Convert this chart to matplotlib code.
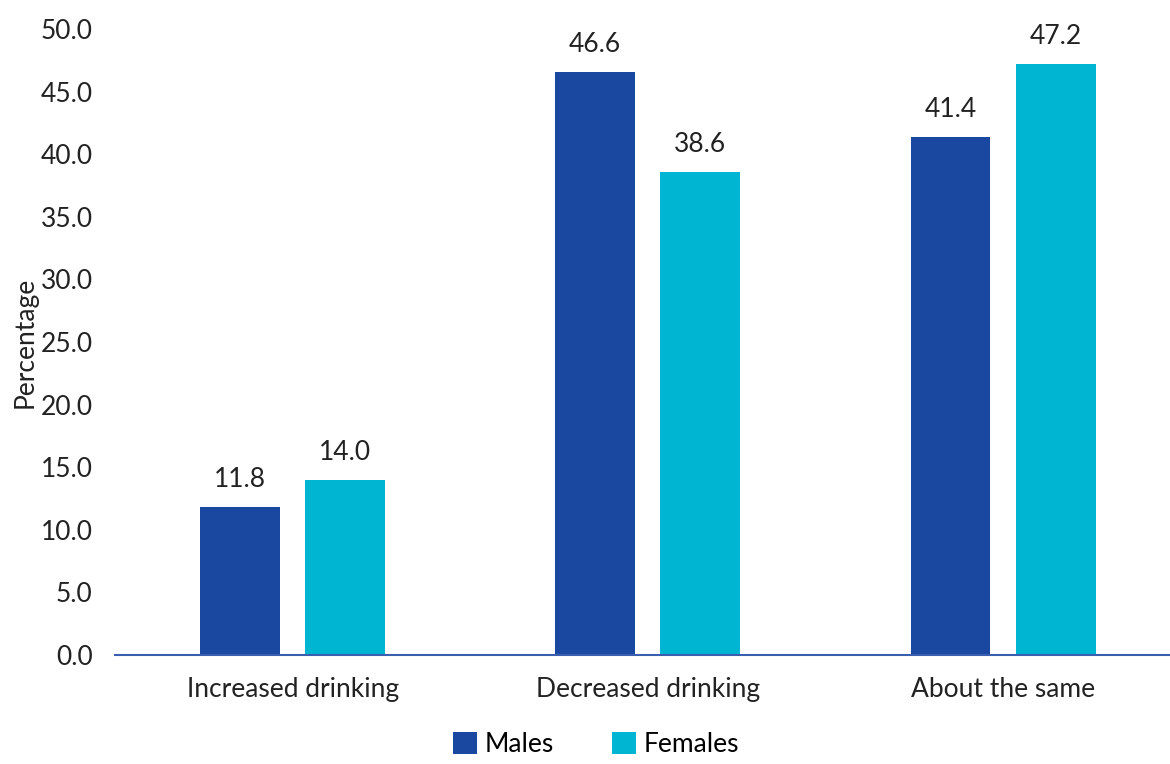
import numpy as np
import matplotlib.pyplot as plt

categories = ['Increased drinking', 'Decreased drinking', 'About the same']
males = [11.8, 46.6, 41.4]
females = [14.0, 38.6, 47.2]
yticks = np.arange(0, 55, 5)

c_m = '#1A47A0'
c_f = '#00B5D1'

plt.rcParams['font.family'] = ['Lato', 'DejaVu Sans']

fig = plt.figure(figsize=(11.7, 7.64), dpi=100)
ax = fig.add_axes([0.0983, 0.1427, 0.9017, 0.8193])

x = np.arange(len(categories))
w = 0.225
off = 0.148
b1 = ax.bar(x - off, males, w, color=c_m, label='Males')
b2 = ax.bar(x + off, females, w, color=c_f, label='Females')

for bars in (b1, b2):
    for b in bars:
        ax.text(b.get_x() + b.get_width() / 2, b.get_height() + 1.2,
                '%.1f' % b.get_height(), ha='center', va='bottom', fontsize=19, color='#222222')

ax.set_ylim(0, 50)
ax.set_xlim(-0.5, 2.47)
ax.set_yticks(yticks)
ax.set_yticklabels(['%.1f' % t for t in yticks], fontsize=19, color='#222222')
ax.set_xticks(x)
ax.set_xticklabels(categories, fontsize=19, color='#222222')
ax.tick_params(length=0)
ax.tick_params(axis='x', pad=16)
ax.tick_params(axis='y', pad=16)
for s in ['top', 'right', 'left']:
    ax.spines[s].set_visible(False)
ax.spines['bottom'].set_color('#3A5FAE')
ax.spines['bottom'].set_linewidth(1.5)
ax.set_ylabel('Percentage', fontsize=19, color='#222222', labelpad=2)

ax.legend(loc='upper center', bbox_to_anchor=(0.456, -0.094), ncol=2, frameon=False,
          fontsize=19, handlelength=0.9, handleheight=0.9, columnspacing=2.2, handletextpad=0.3,
          borderpad=0.2)

fig.savefig('out.png', dpi=100)
